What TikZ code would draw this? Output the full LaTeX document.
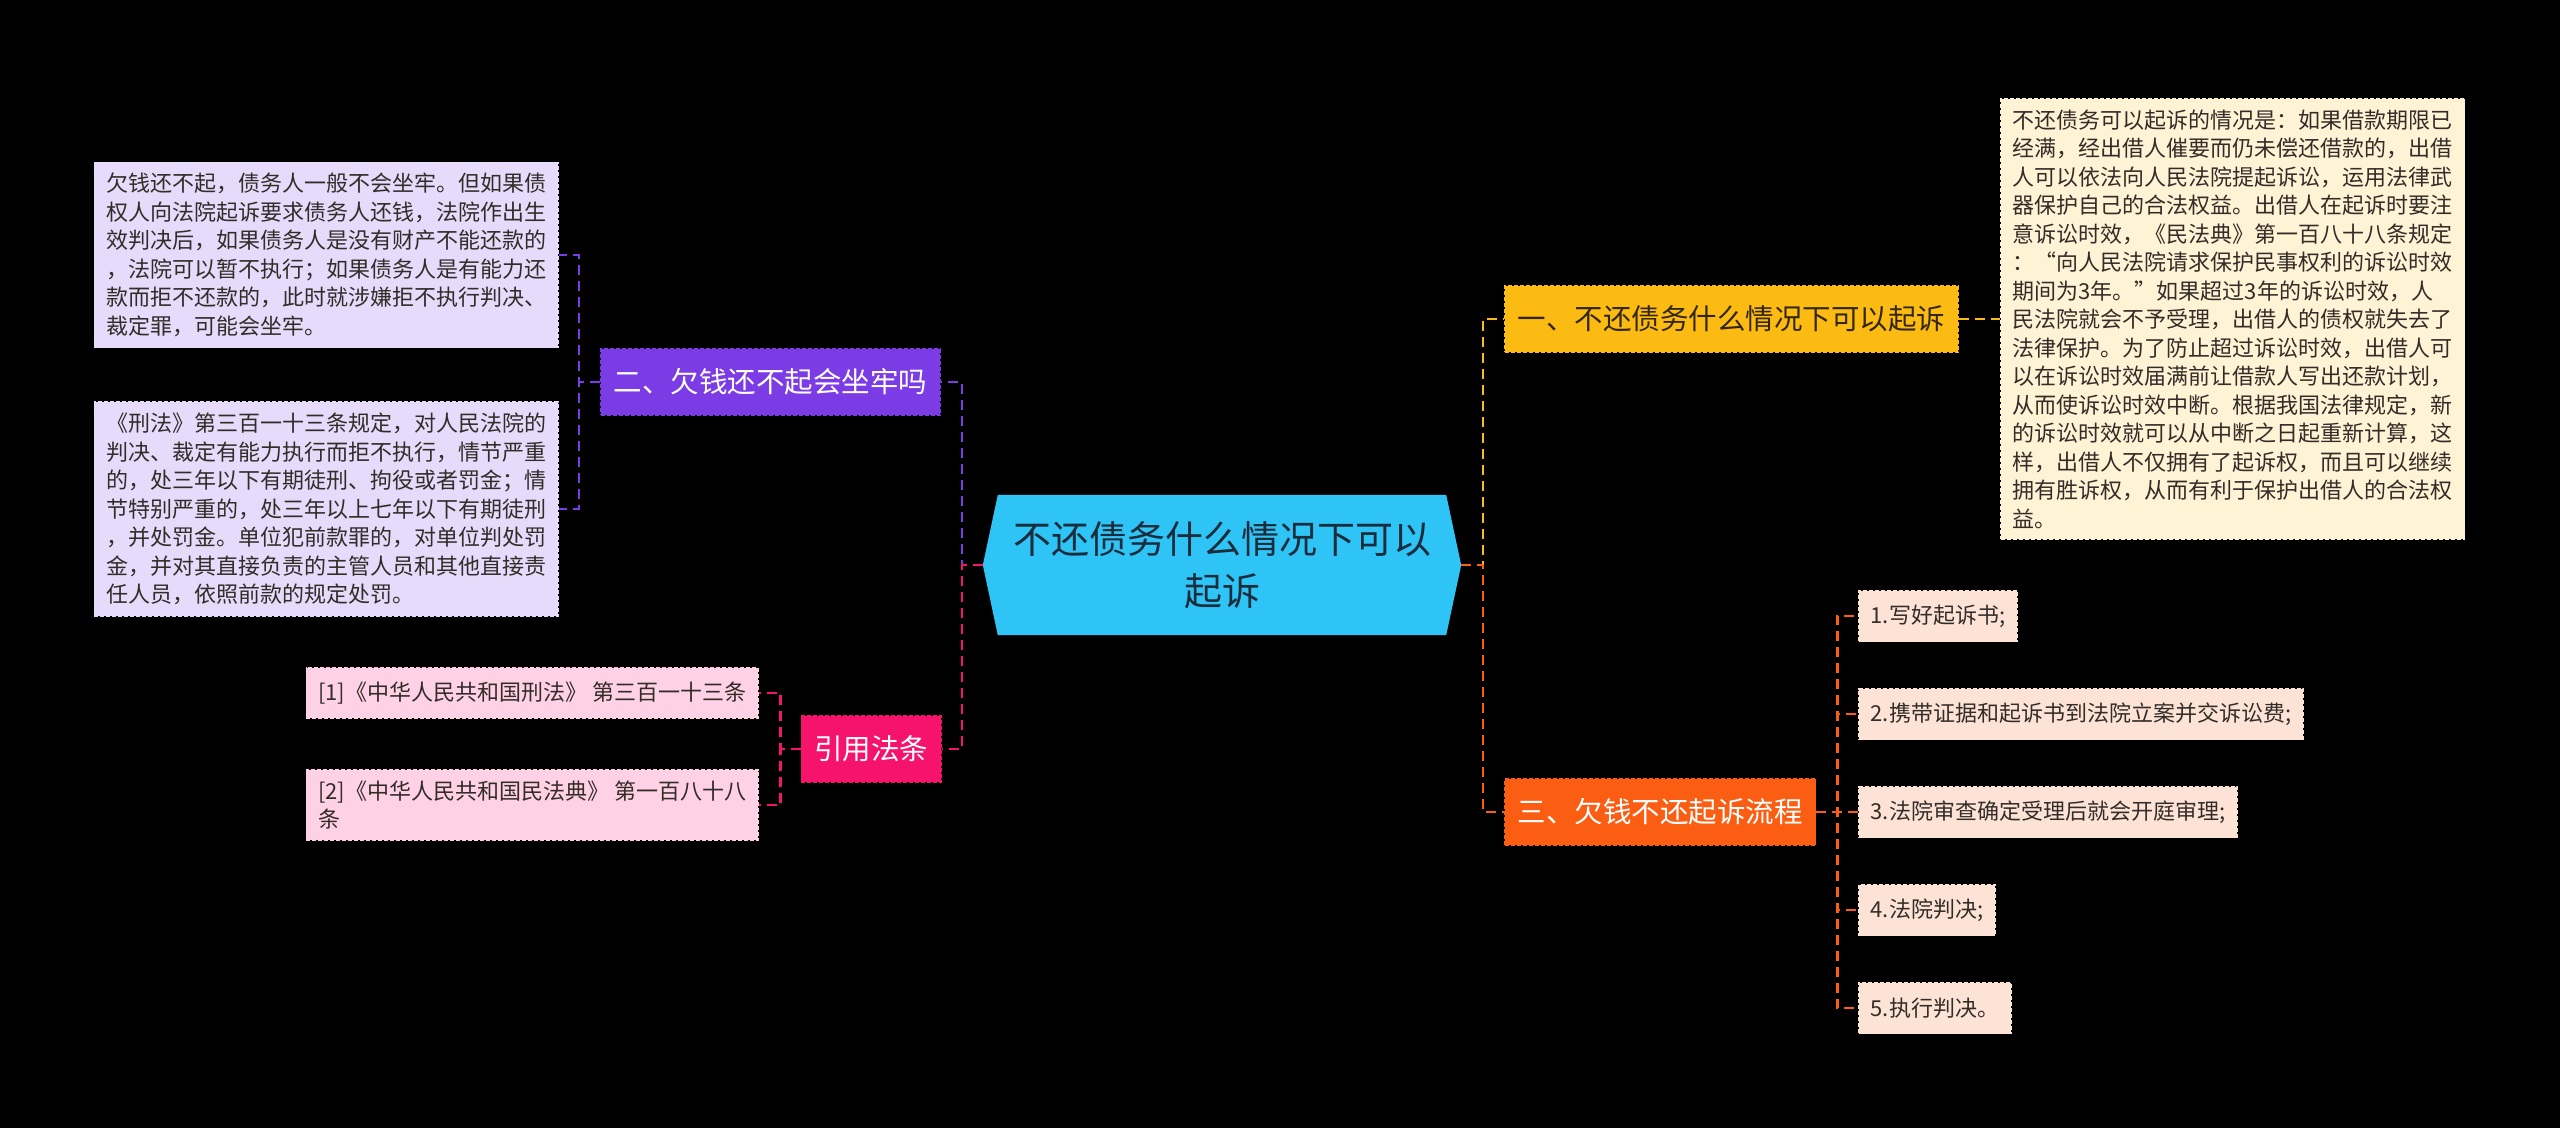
\documentclass[tikz,border=0pt]{standalone}
\usepackage{fontspec}
\setmainfont{Noto Sans CJK SC}
\usetikzlibrary{positioning, backgrounds}

\definecolor{rootblue}{HTML}{2EC4F6}
\definecolor{roottext}{HTML}{1B2D3C}
\definecolor{topicyellow}{HTML}{FBBB12}
\definecolor{yellowtext}{HTML}{33270A}
\definecolor{noteyellow}{HTML}{FFF3D5}
\definecolor{topicorange}{HTML}{FB5D12}
\definecolor{notepeach}{HTML}{FDE3D6}
\definecolor{topicpink}{HTML}{F6136C}
\definecolor{notepink}{HTML}{FFD1E5}
\definecolor{topicpurple}{HTML}{7B3CE6}
\definecolor{notepurple}{HTML}{E6DBFA}
\definecolor{leaftext}{HTML}{332C28}

\begin{document}
\begin{tikzpicture}[x=1pt, y=-1pt,
  topic/.style={rectangle, draw, dash pattern=on 4pt off 2pt, line width=1.4pt,
                minimum height=66pt, inner xsep=13pt, text=white,
                font=\fontsize{28.5}{34}\selectfont},
  leaf/.style={rectangle, draw, dash pattern=on 4pt off 2pt, line width=1.4pt,
               inner xsep=12pt, inner ysep=11pt, align=left, text=leaftext,
               font=\fontsize{22}{28.5}\selectfont},
  stepbox/.style={leaf, fill=notepeach, draw=notepeach, minimum height=51pt, anchor=west},
  link/.style={line width=2.4pt, dash pattern=on 10pt off 6pt}
]
% Canvas
\begin{scope}[on background layer]
  \fill[black] (0,0) rectangle (2560,1128);
\end{scope}

% Root
\node[minimum width=478pt, minimum height=140pt, inner sep=0pt, align=center,
      text=roottext, font=\fontsize{38}{52}\selectfont] (root) at (1222,565)
      {不还债务什么情况下可以\\起诉};
\begin{scope}[on background layer]
  \fill[rootblue] (root.west) -- ([xshift=15pt]root.north west)
    -- ([xshift=-15pt]root.north east) -- (root.east)
    -- ([xshift=-15pt]root.south east) -- ([xshift=15pt]root.south west) -- cycle;
\end{scope}

% Right: topic one and its note
\node[topic, fill=topicyellow, draw=topicyellow, text=yellowtext, anchor=west] (q1) at (1504,319)
  {一、不还债务什么情况下可以起诉};
\node[leaf, fill=noteyellow, draw=noteyellow, anchor=west] (n1) at (2000,319)
  {不还债务可以起诉的情况是：如果借款期限已\\
   经满，经出借人催要而仍未偿还借款的，出借\\
   人可以依法向人民法院提起诉讼，运用法律武\\
   器保护自己的合法权益。出借人在起诉时要注\\
   意诉讼时效，《民法典》第一百八十八条规定\\
   ：“向人民法院请求保护民事权利的诉讼时效\\
   期间为3年。”如果超过3年的诉讼时效，人\\
   民法院就会不予受理，出借人的债权就失去了\\
   法律保护。为了防止超过诉讼时效，出借人可\\
   以在诉讼时效届满前让借款人写出还款计划，\\
   从而使诉讼时效中断。根据我国法律规定，新\\
   的诉讼时效就可以从中断之日起重新计算，这\\
   样，出借人不仅拥有了起诉权，而且可以继续\\
   拥有胜诉权，从而有利于保护出借人的合法权\\
   益。};

% Right: topic three and its steps
\node[topic, fill=topicorange, draw=topicorange, anchor=west] (q3) at (1504,812)
  {三、欠钱不还起诉流程};
\foreach \i/\y/\txt in {1/616/{1.写好起诉书;},
                        2/714/{2.携带证据和起诉书到法院立案并交诉讼费;},
                        3/812/{3.法院审查确定受理后就会开庭审理;},
                        4/910/{4.法院判决;},
                        5/1008/{5.执行判决。}} {
  \node[stepbox] (s\i) at (1858,\y) {\txt};
}

% Left: topic two and its notes
\node[topic, fill=topicpurple, draw=topicpurple, anchor=east] (q2) at (941,382)
  {二、欠钱还不起会坐牢吗};
\node[leaf, fill=notepurple, draw=notepurple, anchor=east] (na) at (559,255)
  {欠钱还不起，债务人一般不会坐牢。但如果债\\
   权人向法院起诉要求债务人还钱，法院作出生\\
   效判决后，如果债务人是没有财产不能还款的\\
   ，法院可以暂不执行；如果债务人是有能力还\\
   款而拒不还款的，此时就涉嫌拒不执行判决、\\
   裁定罪，可能会坐牢。};
\node[leaf, fill=notepurple, draw=notepurple, anchor=east] (nb) at (559,509)
  {《刑法》第三百一十三条规定，对人民法院的\\
   判决、裁定有能力执行而拒不执行，情节严重\\
   的，处三年以下有期徒刑、拘役或者罚金；情\\
   节特别严重的，处三年以上七年以下有期徒刑\\
   ，并处罚金。单位犯前款罪的，对单位判处罚\\
   金，并对其直接负责的主管人员和其他直接责\\
   任人员，依照前款的规定处罚。};

% Left: cited articles
\node[topic, fill=topicpink, draw=topicpink, anchor=east] (q4) at (942,749) {引用法条};
\node[leaf, fill=notepink, draw=notepink, minimum height=50pt, anchor=east] (r1) at (759,693)
  {[1]《中华人民共和国刑法》 第三百一十三条};
\node[leaf, fill=notepink, draw=notepink, anchor=east] (r2) at (759,805)
  {[2]《中华人民共和国民法典》 第一百八十八\\条};

% Connectors
\draw[link, topicyellow] (root.east) -- ++(22,0) |- (q1.west);
\draw[link, topicorange] (root.east) -- ++(22,0) |- (q3.west);
\draw[link, topicyellow] (q1.east) -- (n1.west);
\foreach \i in {1,...,5}
  \draw[link, topicorange] (q3.east) -- ++(21,0) |- (s\i.west);
\draw[link, topicpurple] (root.west) -- ++(-21,0) |- (q2.east);
\draw[link, topicpink] (root.west) -- ++(-21,0) |- (q4.east);
\draw[link, topicpurple] (q2.west) -- ++(-21,0) |- (na.east);
\draw[link, topicpurple] (q2.west) -- ++(-21,0) |- (nb.east);
\draw[link, topicpink] (q4.west) -- ++(-20,0) |- (r1.east);
\draw[link, topicpink] (q4.west) -- ++(-20,0) |- (r2.east);
\end{tikzpicture}
\end{document}
